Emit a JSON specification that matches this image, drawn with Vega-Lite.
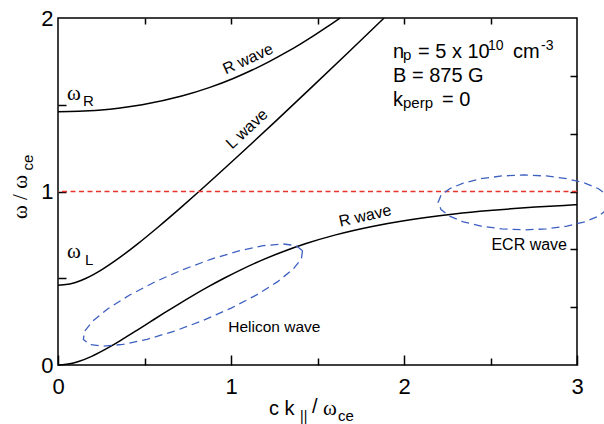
{
 "$schema": "https://vega.github.io/schema/vega-lite/v6.json",
 "width": 519, "height": 347,
 "autosize": {"type": "none"},
 "padding": {"left": 58, "top": 18, "right": 27, "bottom": 59},
 "background": "white",
 "config": {
  "view": {"stroke": "black", "strokeWidth": 1.5},
  "axis": {"grid": false, "domain": false, "title": null, "tickColor": "black", "tickWidth": 1.5, "labelColor": "black", "labelFont": "Liberation Sans", "labelFontSize": 22, "labelFlush": false, "labelOverlap": false}
 },
 "datasets": {
  "curves": [
   {"series": "R_upper", "k": 0, "w": 1.4597}, {"series": "R_upper", "k": 0.1186, "w": 1.462}, {"series": "R_upper", "k": 0.1807, "w": 1.465}, {"series": "R_upper", "k": 0.2495, "w": 1.47}, {"series": "R_upper", "k": 0.3485, "w": 1.48}, {"series": "R_upper", "k": 0.4868, "w": 1.5}, {"series": "R_upper", "k": 0.7152, "w": 1.55}, {"series": "R_upper", "k": 0.8779, "w": 1.6}, {"series": "R_upper", "k": 1.0095, "w": 1.65}, {"series": "R_upper", "k": 1.1227, "w": 1.7}, {"series": "R_upper", "k": 1.2235, "w": 1.75}, {"series": "R_upper", "k": 1.3154, "w": 1.8}, {"series": "R_upper", "k": 1.4007, "w": 1.85}, {"series": "R_upper", "k": 1.481, "w": 1.9}, {"series": "R_upper", "k": 1.5573, "w": 1.95}, {"series": "R_upper", "k": 1.6303, "w": 2.0},
   {"series": "L", "k": 0, "w": 0.4597}, {"series": "L", "k": 0.057, "w": 0.465}, {"series": "L", "k": 0.0798, "w": 0.47}, {"series": "L", "k": 0.113, "w": 0.48}, {"series": "L", "k": 0.1623, "w": 0.5}, {"series": "L", "k": 0.2538, "w": 0.55}, {"series": "L", "k": 0.3292, "w": 0.6}, {"series": "L", "k": 0.4623, "w": 0.7}, {"series": "L", "k": 0.5846, "w": 0.8}, {"series": "L", "k": 0.7015, "w": 0.9}, {"series": "L", "k": 0.8152, "w": 1.0}, {"series": "L", "k": 1.0363, "w": 1.2}, {"series": "L", "k": 1.2524, "w": 1.4}, {"series": "L", "k": 1.4653, "w": 1.6}, {"series": "L", "k": 1.6759, "w": 1.8}, {"series": "L", "k": 1.8849, "w": 2.0},
   {"series": "R_lower", "k": 0, "w": 0}, {"series": "R_lower", "k": 0.0829, "w": 0.01}, {"series": "R_lower", "k": 0.1187, "w": 0.02}, {"series": "R_lower", "k": 0.1945, "w": 0.05}, {"series": "R_lower", "k": 0.2908, "w": 0.1}, {"series": "R_lower", "k": 0.3754, "w": 0.15}, {"series": "R_lower", "k": 0.4558, "w": 0.2}, {"series": "R_lower", "k": 0.5349, "w": 0.25}, {"series": "R_lower", "k": 0.6145, "w": 0.3}, {"series": "R_lower", "k": 0.6956, "w": 0.35}, {"series": "R_lower", "k": 0.7793, "w": 0.4}, {"series": "R_lower", "k": 0.8669, "w": 0.45}, {"series": "R_lower", "k": 0.9597, "w": 0.5}, {"series": "R_lower", "k": 1.0595, "w": 0.55}, {"series": "R_lower", "k": 1.169, "w": 0.6}, {"series": "R_lower", "k": 1.2918, "w": 0.65}, {"series": "R_lower", "k": 1.4338, "w": 0.7}, {"series": "R_lower", "k": 1.6048, "w": 0.75}, {"series": "R_lower", "k": 1.8232, "w": 0.8}, {"series": "R_lower", "k": 1.9912, "w": 0.83}, {"series": "R_lower", "k": 2.1272, "w": 0.85}, {"series": "R_lower", "k": 2.2907, "w": 0.87}, {"series": "R_lower", "k": 2.4942, "w": 0.89}, {"series": "R_lower", "k": 2.6171, "w": 0.9}, {"series": "R_lower", "k": 2.7591, "w": 0.91}, {"series": "R_lower", "k": 2.9262, "w": 0.92}, {"series": "R_lower", "k": 3.0, "w": 0.9239}
  ],
  "ellipses": [
   {"name": "helicon", "t": 0, "k": 1.4133, "w": 0.6589}, {"name": "helicon", "t": 15, "k": 1.3764, "w": 0.6881}, {"name": "helicon", "t": 30, "k": 1.2989, "w": 0.6978}, {"name": "helicon", "t": 45, "k": 1.186, "w": 0.6875}, {"name": "helicon", "t": 60, "k": 1.0454, "w": 0.6578}, {"name": "helicon", "t": 75, "k": 0.8867, "w": 0.6107}, {"name": "helicon", "t": 90, "k": 0.7208, "w": 0.5495}, {"name": "helicon", "t": 105, "k": 0.5589, "w": 0.4783}, {"name": "helicon", "t": 120, "k": 0.4121, "w": 0.4019}, {"name": "helicon", "t": 135, "k": 0.2904, "w": 0.3257}, {"name": "helicon", "t": 150, "k": 0.202, "w": 0.2547}, {"name": "helicon", "t": 165, "k": 0.153, "w": 0.1938}, {"name": "helicon", "t": 180, "k": 0.1467, "w": 0.1472}, {"name": "helicon", "t": 195, "k": 0.1836, "w": 0.118}, {"name": "helicon", "t": 210, "k": 0.2612, "w": 0.1082}, {"name": "helicon", "t": 225, "k": 0.3741, "w": 0.1185}, {"name": "helicon", "t": 240, "k": 0.5146, "w": 0.1482}, {"name": "helicon", "t": 255, "k": 0.6733, "w": 0.1953}, {"name": "helicon", "t": 270, "k": 0.8392, "w": 0.2565}, {"name": "helicon", "t": 285, "k": 1.0011, "w": 0.3277}, {"name": "helicon", "t": 300, "k": 1.1479, "w": 0.4041}, {"name": "helicon", "t": 315, "k": 1.2697, "w": 0.4803}, {"name": "helicon", "t": 330, "k": 1.358, "w": 0.5513}, {"name": "helicon", "t": 345, "k": 1.407, "w": 0.6122}, {"name": "helicon", "t": 360, "k": 1.4133, "w": 0.6589},
   {"name": "ecr", "t": 0, "k": 3.191, "w": 0.937}, {"name": "ecr", "t": 15, "k": 3.1741, "w": 0.9779}, {"name": "ecr", "t": 30, "k": 3.1244, "w": 1.016}, {"name": "ecr", "t": 45, "k": 3.0454, "w": 1.0487}, {"name": "ecr", "t": 60, "k": 2.9425, "w": 1.0738}, {"name": "ecr", "t": 75, "k": 2.8226, "w": 1.0896}, {"name": "ecr", "t": 90, "k": 2.694, "w": 1.095}, {"name": "ecr", "t": 105, "k": 2.5654, "w": 1.0896}, {"name": "ecr", "t": 120, "k": 2.4455, "w": 1.0738}, {"name": "ecr", "t": 135, "k": 2.3426, "w": 1.0487}, {"name": "ecr", "t": 150, "k": 2.2636, "w": 1.016}, {"name": "ecr", "t": 165, "k": 2.2139, "w": 0.9779}, {"name": "ecr", "t": 180, "k": 2.197, "w": 0.937}, {"name": "ecr", "t": 195, "k": 2.2139, "w": 0.8961}, {"name": "ecr", "t": 210, "k": 2.2636, "w": 0.858}, {"name": "ecr", "t": 225, "k": 2.3426, "w": 0.8253}, {"name": "ecr", "t": 240, "k": 2.4455, "w": 0.8002}, {"name": "ecr", "t": 255, "k": 2.5654, "w": 0.7844}, {"name": "ecr", "t": 270, "k": 2.694, "w": 0.779}, {"name": "ecr", "t": 285, "k": 2.8226, "w": 0.7844}, {"name": "ecr", "t": 300, "k": 2.9425, "w": 0.8002}, {"name": "ecr", "t": 315, "k": 3.0454, "w": 0.8253}, {"name": "ecr", "t": 330, "k": 3.1244, "w": 0.858}, {"name": "ecr", "t": 345, "k": 3.1741, "w": 0.8961}, {"name": "ecr", "t": 360, "k": 3.191, "w": 0.937}
  ]
 },
 "layer": [
  {
   "data": {"name": "curves"},
   "mark": {"type": "line", "color": "black", "strokeWidth": 1.5, "interpolate": "monotone"},
   "encoding": {
    "x": {"field": "k", "type": "quantitative", "scale": {"domain": [0, 3], "nice": false, "zero": false}, "axis": {"orient": "bottom", "values": [0, 1, 2, 3], "labelExpr": "format(datum.value, 'd')", "ticks": false, "labelPadding": 11}},
    "y": {"field": "w", "type": "quantitative", "scale": {"domain": [0, 2], "nice": false, "zero": false}, "axis": {"orient": "left", "values": [0, 1, 2], "labelExpr": "format(datum.value, 'd')", "ticks": false, "labelPadding": 5}},
    "detail": {"field": "series"}
   }
  },
  {
   "data": {"values": [{}]},
   "mark": {"type": "rule", "color": "#ea3429", "strokeWidth": 1.5, "strokeDash": [5, 3.5]},
   "encoding": {"y": {"datum": 1, "type": "quantitative", "scale": {"domain": [0, 2], "nice": false, "zero": false}, "axis": null}}
  },
  {
   "data": {"name": "ellipses"},
   "mark": {"type": "line", "color": "#3d5fc0", "strokeWidth": 1.3, "strokeDash": [8, 5]},
   "encoding": {
    "x": {"field": "k", "type": "quantitative", "scale": {"domain": [0, 3], "nice": false, "zero": false}, "axis": {"orient": "bottom", "values": [0, 1, 2, 3], "tickSize": -10, "labels": false}},
    "y": {"field": "w", "type": "quantitative", "scale": {"domain": [0, 2], "nice": false, "zero": false}, "axis": {"orient": "left", "values": [0.5, 1, 1.5], "tickSize": -8, "labels": false}},
    "order": {"field": "t", "type": "quantitative"},
    "detail": {"field": "name"}
   }
  },
  {
   "data": {"values": [
    {"text": "n", "k": 1.9364, "w": 1.7695},
    {"text": "= 5 x 10", "k": 2.0809, "w": 1.7695},
    {"text": "cm", "k": 2.6301, "w": 1.7695},
    {"text": "B = 875 G", "k": 1.9364, "w": 1.6311},
    {"text": "k", "k": 1.9364, "w": 1.4928},
    {"text": "= 0", "k": 2.2197, "w": 1.4928},
    {"text": "c k", "k": 1.2197, "w": -0.2882},
    {"text": "/", "k": 1.4682, "w": -0.2767}
   ]},
   "mark": {"type": "text", "font": "Liberation Sans", "fontSize": 20, "align": "left", "baseline": "alphabetic", "color": "black"},
   "encoding": {
    "x": {"field": "k", "type": "quantitative", "scale": {"domain": [0, 3], "nice": false, "zero": false}, "axis": {"orient": "bottom", "values": [0.5, 1.5, 2.5], "tickSize": -7, "labels": false}},
    "y": {"field": "w", "type": "quantitative", "scale": {"domain": [0, 2], "nice": false, "zero": false}, "axis": {"orient": "right", "values": [0.3333, 0.6667, 1, 1.3333, 1.6667], "tickSize": -7, "labels": false}},
    "text": {"field": "text"}
   }
  },
  {
   "data": {"values": [
    {"text": "10", "k": 2.4855, "w": 1.8156},
    {"text": "-3", "k": 2.7919, "w": 1.8156},
    {"text": "||", "k": 1.3988, "w": -0.3228}
   ]},
   "mark": {"type": "text", "font": "Liberation Sans", "fontSize": 14, "align": "left", "baseline": "alphabetic", "color": "black"},
   "encoding": {
    "x": {"field": "k", "type": "quantitative", "scale": {"domain": [0, 3], "nice": false, "zero": false}, "axis": {"orient": "top", "values": [0.5, 1, 1.5, 2, 2.5], "tickSize": -6, "labels": false}},
    "y": {"field": "w", "type": "quantitative", "scale": {"domain": [0, 2], "nice": false, "zero": false}, "axis": null},
    "text": {"field": "text"}
   }
  },
  {
   "data": {"values": [
    {"text": "p", "k": 1.9942, "w": 1.7579},
    {"text": "perp", "k": 1.9942, "w": 1.4784},
    {"text": "R", "k": 0.1445, "w": 1.4928},
    {"text": "L", "k": 0.1561, "w": 0.5764},
    {"text": "ce", "k": 1.6185, "w": -0.3228}
   ]},
   "mark": {"type": "text", "font": "Liberation Sans", "fontSize": 15, "align": "left", "baseline": "alphabetic", "color": "black"},
   "encoding": {
    "x": {"field": "k", "type": "quantitative", "scale": {"domain": [0, 3], "nice": false, "zero": false}, "axis": null},
    "y": {"field": "w", "type": "quantitative", "scale": {"domain": [0, 2], "nice": false, "zero": false}, "axis": null},
    "text": {"field": "text"}
   }
  },
  {
   "data": {"values": [{"text": "Helicon wave", "k": 0.9844, "w": 0.1919}]},
   "mark": {"type": "text", "font": "Liberation Sans", "fontSize": 15.5, "align": "left", "baseline": "alphabetic", "color": "black"},
   "encoding": {
    "x": {"field": "k", "type": "quantitative", "scale": {"domain": [0, 3], "nice": false, "zero": false}, "axis": null},
    "y": {"field": "w", "type": "quantitative", "scale": {"domain": [0, 2], "nice": false, "zero": false}, "axis": null},
    "text": {"field": "text"}
   }
  },
  {
   "data": {"values": [{"text": "ECR wave", "k": 2.9422, "w": 0.6628}]},
   "mark": {"type": "text", "font": "Liberation Sans", "fontSize": 16, "align": "right", "baseline": "alphabetic", "color": "black"},
   "encoding": {
    "x": {"field": "k", "type": "quantitative", "scale": {"domain": [0, 3], "nice": false, "zero": false}, "axis": null},
    "y": {"field": "w", "type": "quantitative", "scale": {"domain": [0, 2], "nice": false, "zero": false}, "axis": null},
    "text": {"field": "text"}
   }
  },
  {
   "data": {"values": [
    {"text": "ω", "k": 0.052, "w": 1.5274},
    {"text": "ω", "k": 0.052, "w": 0.6167},
    {"text": "ω", "k": 1.5318, "w": -0.2882}
   ]},
   "mark": {"type": "text", "font": "Liberation Serif", "fontSize": 21, "align": "left", "baseline": "alphabetic", "color": "black"},
   "encoding": {
    "x": {"field": "k", "type": "quantitative", "scale": {"domain": [0, 3], "nice": false, "zero": false}, "axis": null},
    "y": {"field": "w", "type": "quantitative", "scale": {"domain": [0, 2], "nice": false, "zero": false}, "axis": null},
    "text": {"field": "text"}
   }
  },
  {
   "data": {"values": [{"text": "R wave", "k": 1.0983, "w": 1.7637}]},
   "mark": {"type": "text", "font": "Liberation Sans", "fontSize": 16, "align": "center", "baseline": "middle", "angle": -24, "color": "black"},
   "encoding": {
    "x": {"field": "k", "type": "quantitative", "scale": {"domain": [0, 3], "nice": false, "zero": false}, "axis": null},
    "y": {"field": "w", "type": "quantitative", "scale": {"domain": [0, 2], "nice": false, "zero": false}, "axis": null},
    "text": {"field": "text"}
   }
  },
  {
   "data": {"values": [{"text": "L wave", "k": 1.0925, "w": 1.3602}]},
   "mark": {"type": "text", "font": "Liberation Sans", "fontSize": 16, "align": "center", "baseline": "middle", "angle": -43, "color": "black"},
   "encoding": {
    "x": {"field": "k", "type": "quantitative", "scale": {"domain": [0, 3], "nice": false, "zero": false}, "axis": null},
    "y": {"field": "w", "type": "quantitative", "scale": {"domain": [0, 2], "nice": false, "zero": false}, "axis": null},
    "text": {"field": "text"}
   }
  },
  {
   "data": {"values": [{"text": "R wave", "k": 1.7746, "w": 0.8588}]},
   "mark": {"type": "text", "font": "Liberation Sans", "fontSize": 16, "align": "center", "baseline": "middle", "angle": -13, "color": "black"},
   "encoding": {
    "x": {"field": "k", "type": "quantitative", "scale": {"domain": [0, 3], "nice": false, "zero": false}, "axis": null},
    "y": {"field": "w", "type": "quantitative", "scale": {"domain": [0, 2], "nice": false, "zero": false}, "axis": null},
    "text": {"field": "text"}
   }
  },
  {
   "data": {"values": [{"text": "ω / ω", "k": -0.1792, "w": 0.9683}]},
   "mark": {"type": "text", "font": "Liberation Serif", "fontSize": 21, "align": "center", "baseline": "alphabetic", "angle": 270, "color": "black"},
   "encoding": {
    "x": {"field": "k", "type": "quantitative", "scale": {"domain": [0, 3], "nice": false, "zero": false}, "axis": null},
    "y": {"field": "w", "type": "quantitative", "scale": {"domain": [0, 2], "nice": false, "zero": false}, "axis": null},
    "text": {"field": "text"}
   }
  },
  {
   "data": {"values": [{"text": "ce", "k": -0.1445, "w": 1.1671}]},
   "mark": {"type": "text", "font": "Liberation Sans", "fontSize": 15, "align": "center", "baseline": "alphabetic", "angle": 270, "color": "black"},
   "encoding": {
    "x": {"field": "k", "type": "quantitative", "scale": {"domain": [0, 3], "nice": false, "zero": false}, "axis": null},
    "y": {"field": "w", "type": "quantitative", "scale": {"domain": [0, 2], "nice": false, "zero": false}, "axis": null},
    "text": {"field": "text"}
   }
  }
 ],
 "resolve": {"axis": {"x": "independent", "y": "independent"}}
}
